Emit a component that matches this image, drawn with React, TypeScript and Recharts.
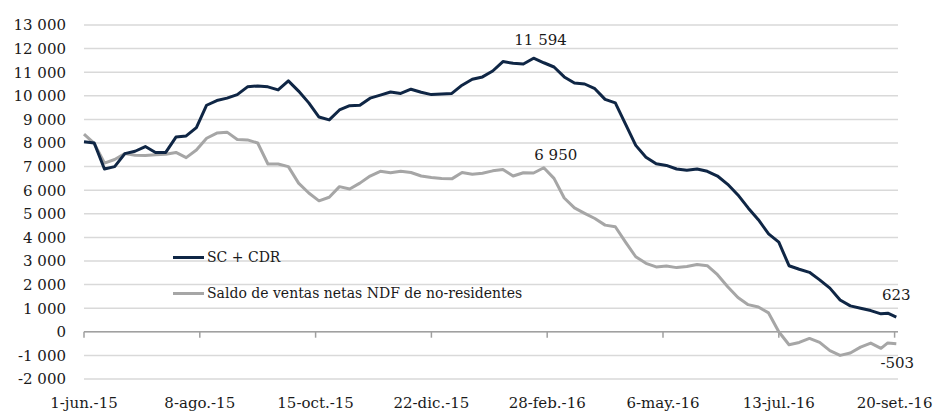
import React from "react";
import {
  LineChart,
  Line,
  XAxis,
  YAxis,
  CartesianGrid,
  Legend,
  ReferenceLine,
  ReferenceDot,
} from "recharts";

// days since 1-jun-15
const days = [
  0, 6, 12, 18, 24, 30, 36, 42, 48, 54, 60, 66, 72, 78, 84, 90, 96, 102, 108, 114,
  120, 126, 132, 138, 144, 150, 156, 162, 168, 174, 180, 186, 192, 198, 204, 210, 216, 222, 228, 234,
  240, 246, 252, 258, 264, 270, 276, 282, 288, 294, 300, 306, 312, 318, 324, 330, 336, 342, 348, 354,
  360, 366, 372, 378, 384, 390, 396, 402, 408, 414, 420, 426, 432, 438, 444, 450, 456, 462, 468, 472, 477,
];

const scCdr = [
  8050, 8000, 6900, 7000, 7550, 7650, 7850, 7600, 7600, 8250, 8300, 8650, 9600, 9800, 9900, 10050, 10380, 10420, 10380, 10250,
  10630, 10200, 9700, 9100, 8980, 9400, 9580, 9600, 9900, 10030, 10160, 10100, 10280, 10150, 10050, 10080, 10100, 10450, 10700, 10800,
  11050, 11450, 11380, 11350, 11594, 11400, 11220, 10800, 10540, 10500, 10300, 9850, 9700, 8800, 7900, 7400, 7120, 7050, 6900, 6850,
  6900, 6800, 6600, 6250, 5800, 5250, 4750, 4150, 3800, 2800, 2650, 2520, 2200, 1850, 1350, 1100, 1000, 900, 760, 790, 623,
];

const ndfNoRes = [
  8380, 7980, 7150, 7300, 7550, 7480, 7470, 7500, 7520, 7600, 7380, 7700, 8200, 8420, 8460, 8150, 8130, 8000, 7110, 7110,
  7000, 6300, 5880, 5550, 5700, 6150, 6050, 6300, 6600, 6800, 6740, 6800, 6750, 6600, 6540, 6500, 6480, 6750, 6680, 6720,
  6820, 6880, 6600, 6740, 6730, 6950, 6500, 5670, 5250, 5020, 4800, 4520, 4450, 3800, 3180, 2900, 2750, 2790, 2720, 2770,
  2850, 2800, 2420, 1910, 1450, 1150, 1050, 800, 0, -550, -450, -280, -450, -800, -1000, -900, -650, -480, -700, -470, -503,
];

const tickDays = [0, 68, 136, 204, 272, 340, 408, 476];
const tickLabels = ["1-jun.-15", "8-ago.-15", "15-oct.-15", "22-dic.-15", "28-feb.-16", "6-may.-16", "13-jul.-16", "20-set.-16"];
const yTicks = [-2000, -1000, 0, 1000, 2000, 3000, 4000, 5000, 6000, 7000, 8000, 9000, 10000, 11000, 12000, 13000];

const NAVY = "#0f2645";
const GRAY = "#a6a6a6";
const FONT = "'DejaVu Serif', serif";

const rows = days.map((d, i) => ({ day: d, sc: scCdr[i], ndf: ndfNoRes[i] }));

const fmt = (v: number) => {
  const s = String(Math.abs(v)).replace(/\B(?=(\d{3})+(?!\d))/g, " ");
  return v < 0 ? "-" + s : s;
};

const makeLabel = (text: string, dx: number, dy: number) => (props: any) => {
  const vb = props.viewBox || {};
  const cx = (vb.x ?? 0) + (vb.width ?? 0) / 2;
  const cy = (vb.y ?? 0) + (vb.height ?? 0) / 2;
  return (
    <text x={cx + dx} y={cy + dy} textAnchor="middle" fontFamily={FONT} fontSize={15} fill="#1a1a1a">
      {text}
    </text>
  );
};

const LegendBox = () => (
  <div style={{ fontFamily: FONT, fontSize: 14, color: "#1a1a1a", lineHeight: "36px" }}>
    {[
      { name: "SC + CDR", color: NAVY },
      { name: "Saldo de ventas netas NDF de no-residentes", color: GRAY },
    ].map((it) => (
      <div key={it.name} style={{ display: "flex", alignItems: "center", whiteSpace: "nowrap" }}>
        <span style={{ display: "inline-block", width: 31, height: 3, background: it.color, marginRight: 3 }} />
        <span>{it.name}</span>
      </div>
    ))}
  </div>
);

export default function App() {
  return (
    <div style={{ position: "absolute", left: 0, top: 0, width: 934, height: 412, background: "#fff" }}>
      <LineChart width={934} height={412} data={rows} margin={{ top: 25, right: 36, bottom: 8, left: 8 }}>
        <CartesianGrid vertical={false} stroke="#d9d9d9" strokeWidth={1.5} />
        <XAxis
          dataKey="day"
          type="number"
          domain={[0, 478]}
          ticks={tickDays}
          tickFormatter={(v: number) => tickLabels[tickDays.indexOf(v)] ?? ""}
          axisLine={false}
          tickLine={false}
          tickMargin={12}
          height={25}
          interval={0}
          tick={{ fontFamily: FONT, fontSize: 15, fill: "#1a1a1a" }}
        />
        <YAxis
          domain={[-2000, 13000]}
          ticks={yTicks}
          tickFormatter={fmt}
          axisLine={false}
          tickLine={false}
          tickMargin={12}
          width={76}
          interval={0}
          tick={{ fontFamily: FONT, fontSize: 15, fill: "#1a1a1a" }}
        />
        <ReferenceLine y={0} stroke="#a0a0a0" strokeWidth={1.5} />
        {tickDays.map((d) => (
          <ReferenceLine
            key={d}
            segment={[{ x: d, y: 0 }, { x: d, y: -250 }]}
            stroke="#a0a0a0"
            strokeWidth={1.5}
          />
        ))}
        <Legend
          layout="vertical"
          align="center"
          verticalAlign="middle"
          content={() => <LegendBox />}
          wrapperStyle={{ left: 173, top: 239, width: "auto" }}
        />
        <Line
          type="linear"
          dataKey="ndf"
          stroke={GRAY}
          strokeWidth={3}
          dot={false}
          isAnimationActive={false}
          strokeLinejoin="round"
        />
        <Line
          type="linear"
          dataKey="sc"
          stroke={NAVY}
          strokeWidth={3}
          dot={false}
          isAnimationActive={false}
          strokeLinejoin="round"
        />
        <ReferenceDot x={264} y={11594} r={1} fill="none" stroke="none" label={makeLabel("11 594", 7, -13)} />
        <ReferenceDot x={270} y={6950} r={1} fill="none" stroke="none" label={makeLabel("6 950", 12, -8)} />
        <ReferenceDot x={477} y={623} r={1} fill="none" stroke="none" label={makeLabel("623", 0, -17)} />
        <ReferenceDot x={477} y={-503} r={1} fill="none" stroke="none" label={makeLabel("-503", 1, 24)} />
      </LineChart>
    </div>
  );
}
